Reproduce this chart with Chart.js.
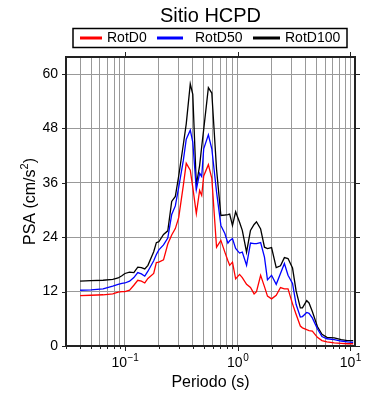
<!DOCTYPE html>
<html>
<head>
<meta charset="utf-8">
<script src="https://cdn.jsdelivr.net/npm/chart.js@4"></script>
<style>
  html, body { margin: 0; padding: 0; background: #fff; }
  #wrap { width: 390px; height: 400px; }
</style>
</head>
<body>
<div id="wrap"><canvas id="psaChart" width="390" height="400"></canvas></div>
<script>
// periodos (s) y PSA (cm/s2)
const periods = [0.04, 0.05, 0.064, 0.078, 0.087, 0.094, 0.1, 0.11, 0.12, 0.13, 0.14, 0.15, 0.16, 0.18, 0.19, 0.2, 0.22, 0.24, 0.26, 0.28,
  0.3, 0.33, 0.35, 0.38, 0.4, 0.43, 0.46, 0.48, 0.5, 0.55, 0.59, 0.65, 0.71, 0.77, 0.82, 0.85, 0.9, 0.96, 1.04, 1.1,
  1.2, 1.3, 1.4, 1.47, 1.6, 1.73, 1.84, 2.0, 2.2, 2.4, 2.6, 2.8, 3.07, 3.3, 3.6, 3.76, 4.1, 4.3, 4.6, 5.1,
  5.6, 6.2, 7.2, 8.3, 9.4, 10.6];
const rotD0 = [11.1, 11.2, 11.3, 11.5, 11.9, 12.0, 12.0, 12.3, 13.4, 14.5, 14.3, 13.9, 14.9, 16.0, 18.4, 18.5, 19.0, 22.5, 24.5, 25.9,
  28.3, 35.5, 40.3, 38.8, 35.0, 29.2, 34.3, 33.2, 37.5, 40.0, 37.0, 21.8, 23.3, 20.7, 18.8, 17.8, 18.5, 14.8, 15.8, 15.1,
  13.6, 12.9, 11.5, 12.0, 15.6, 13.1, 11.0, 10.4, 11.2, 12.9, 12.6, 12.6, 9.3, 7.0, 4.4, 4.0, 3.6, 3.4, 3.3, 1.9,
  1.2, 0.9, 0.7, 0.6, 0.5, 0.5];
const rotD50 = [12.3, 12.4, 12.6, 13.2, 13.6, 13.8, 13.9, 14.3, 15.1, 16.2, 15.9, 15.4, 16.5, 18.8, 20.2, 21.2, 22.3, 23.8, 29.0, 30.9,
  35.0, 41.0, 45.6, 47.6, 45.0, 34.5, 38.1, 37.4, 43.5, 46.6, 43.5, 34.0, 26.6, 24.8, 22.7, 23.2, 23.7, 21.5, 20.5, 20.7,
  17.8, 22.7, 22.6, 22.6, 22.8, 19.6, 14.6, 15.6, 13.6, 16.0, 18.2, 15.6, 13.8, 9.2, 6.4, 6.5, 7.4, 7.2, 6.2, 3.8,
  2.1, 1.6, 1.4, 1.1, 0.9, 0.8];
const rotD100 = [14.3, 14.4, 14.5, 14.7, 15.0, 15.5, 16.0, 16.3, 16.2, 17.4, 17.3, 17.0, 17.8, 20.8, 22.8, 23.0, 24.6, 25.4, 31.9, 33.0,
  37.5, 44.5, 49.0, 57.8, 55.5, 35.5, 39.8, 44.0, 47.8, 57.0, 55.8, 39.0, 28.8, 28.9, 29.0, 29.1, 26.6, 29.6, 27.3, 25.5,
  20.7, 25.5, 26.8, 27.4, 25.8, 21.8, 21.5, 21.7, 17.3, 17.7, 19.5, 19.3, 17.2, 12.2, 8.4, 8.4, 10.0, 9.5, 7.6, 4.3,
  2.6, 1.9, 1.8, 1.4, 1.2, 1.2];

const seriesNames = ["RotD0", "RotD50", "RotD100"];
const seriesColors = ["#ff0000", "#0000ff", "#000000"];
const yTicks = [0, 12, 24, 36, 48, 60];
const xLabelExps = [-1, 0, 1];

const xMin = 0.03, xMax = 11, yMax = 63.75;
const font = '"Liberation Sans", Arial, Helvetica, sans-serif';

// lineas de grilla en 1..9 x 10^n
const xGrid = [];
for (let e = -2; e <= 1; e++) {
  for (let m = 1; m <= 9; m++) {
    const v = parseFloat((m * Math.pow(10, e)).toPrecision(3));
    if (v >= xMin - 1e-9 && v <= xMax) xGrid.push(v);
  }
}

function toPoints(values) {
  return periods.map((p, i) => ({ x: p, y: values[i] }));
}

const decor = {
  id: "decor",
  afterDraw(chart) {
    const ctx = chart.ctx;
    const a = chart.chartArea;
    const xs = chart.scales.x, ys = chart.scales.y;
    ctx.save();

    // marcas de ejes
    ctx.strokeStyle = "#222";
    ctx.lineWidth = 1;
    ctx.beginPath();
    xGrid.forEach(v => {
      const x = Math.round(xs.getPixelForValue(v)) + 0.5;
      const major = Math.abs(Math.log10(v) - Math.round(Math.log10(v))) < 1e-6;
      ctx.moveTo(x, a.bottom);
      ctx.lineTo(x, a.bottom + (major ? 5 : 3));
      if (major) {
        ctx.moveTo(x, a.top);
        ctx.lineTo(x, a.top - 5);
      }
    });
    yTicks.forEach(v => {
      const y = Math.round(ys.getPixelForValue(v)) + 0.5;
      ctx.moveTo(a.left - 4, y);
      ctx.lineTo(a.left, y);
      ctx.moveTo(a.right, y);
      ctx.lineTo(a.right + 5, y);
    });
    ctx.stroke();

    // marco
    ctx.lineWidth = 2;
    ctx.strokeRect(a.left, a.top, a.right - a.left, a.bottom - a.top);

    // etiquetas eje y
    ctx.fillStyle = "#000";
    ctx.font = "14px " + font;
    ctx.textAlign = "right";
    ctx.textBaseline = "middle";
    yTicks.forEach(v => {
      ctx.fillText(String(v), a.left - 8, ys.getPixelForValue(v));
    });

    // etiquetas eje x (10^n)
    ctx.textBaseline = "alphabetic";
    ctx.textAlign = "left";
    xLabelExps.forEach(e => {
      const x = xs.getPixelForValue(Math.pow(10, e));
      const sup = e < 0 ? "\u2212" + Math.abs(e) : String(e);
      ctx.font = "14px " + font;
      const w1 = ctx.measureText("10").width;
      ctx.font = "10px " + font;
      const w2 = ctx.measureText(sup).width;
      const x0 = x - (w1 + w2) / 2;
      ctx.font = "14px " + font;
      ctx.fillText("10", x0, 367);
      ctx.font = "10px " + font;
      ctx.fillText(sup, x0 + w1 + 0.5, 361);
    });

    // titulo eje x
    ctx.font = "16px " + font;
    ctx.textAlign = "center";
    ctx.fillText("Periodo (s)", (a.left + a.right) / 2, 387);

    // titulo eje y
    ctx.save();
    ctx.translate(35, (a.top + a.bottom) / 2);
    ctx.rotate(-Math.PI / 2);
    ctx.font = "16px " + font;
    const t1 = "PSA (cm/s", t2 = "2", t3 = ")";
    const w1 = ctx.measureText(t1).width;
    const w3 = ctx.measureText(t3).width;
    ctx.font = "11px " + font;
    const w2 = ctx.measureText(t2).width;
    let xx = -(w1 + w2 + w3) / 2;
    ctx.textAlign = "left";
    ctx.font = "16px " + font;
    ctx.fillText(t1, xx, 0);
    ctx.font = "11px " + font;
    ctx.fillText(t2, xx + w1, -7);
    ctx.font = "16px " + font;
    ctx.fillText(t3, xx + w1 + w2, 0);
    ctx.restore();

    // titulo
    ctx.font = "20px " + font;
    ctx.textAlign = "center";
    ctx.fillText("Sitio HCPD", (a.left + a.right) / 2, 22);

    // leyenda
    ctx.lineWidth = 1.5;
    ctx.strokeStyle = "#000";
    ctx.strokeRect(73, 28.5, 274, 19);
    const items = [
      { x0: 80, x1: 102, tx: 107 },
      { x0: 157, x1: 183, tx: 195 },
      { x0: 253, x1: 280, tx: 285 }
    ];
    ctx.font = "14px " + font;
    ctx.textAlign = "left";
    ctx.textBaseline = "middle";
    items.forEach((it, i) => {
      ctx.strokeStyle = seriesColors[i];
      ctx.lineWidth = 3;
      ctx.beginPath();
      ctx.moveTo(it.x0, 38);
      ctx.lineTo(it.x1, 38);
      ctx.stroke();
      ctx.fillStyle = "#000";
      ctx.fillText(seriesNames[i], it.tx, 38.5);
    });
    ctx.restore();
  }
};

const series = [rotD0, rotD50, rotD100];

new Chart(document.getElementById("psaChart"), {
  type: "line",
  data: {
    datasets: series.map((vals, i) => ({
      label: seriesNames[i],
      data: toPoints(vals),
      borderColor: seriesColors[i],
      borderWidth: 1.3,
      pointRadius: 0,
      tension: 0,
      fill: false
    }))
  },
  options: {
    responsive: false,
    animation: false,
    layout: { padding: { left: 66, right: 35, top: 57, bottom: 54 } },
    plugins: { legend: { display: false }, title: { display: false }, tooltip: { enabled: false } },
    scales: {
      x: {
        type: "logarithmic",
        min: xMin,
        max: xMax,
        afterBuildTicks: s => { s.ticks = xGrid.map(v => ({ value: v })); },
        ticks: { display: false },
        grid: { color: "#999", lineWidth: 1, drawTicks: false },
        border: { display: false }
      },
      y: {
        type: "linear",
        min: 0,
        max: yMax,
        afterBuildTicks: s => { s.ticks = yTicks.map(v => ({ value: v })); },
        ticks: { display: false },
        grid: { color: "#999", lineWidth: 1, drawTicks: false },
        border: { display: false }
      }
    }
  },
  plugins: [decor]
});
</script>
</body>
</html>
